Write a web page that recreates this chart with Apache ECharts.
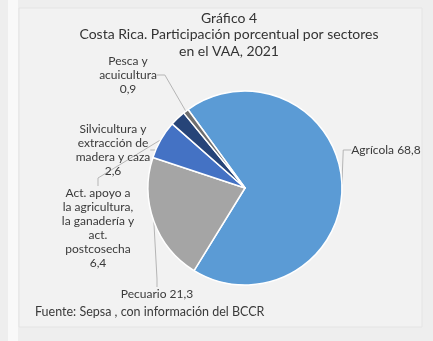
<!DOCTYPE html>
<html>
<head>
<meta charset="utf-8">
<script src="https://cdn.jsdelivr.net/npm/echarts@6/dist/echarts.min.js"></script>
<style>
  html, body { margin: 0; padding: 0; background: #eeeeee; }
  #chart { width: 433px; height: 341px; }
</style>
</head>
<body>
<div id="chart"></div>
<script>
// Sectors of the agricultural value added (VAA), 2021, in percent
const sectors = [
  'Agrícola',
  'Pecuario',
  'Act. apoyo a\nla agricultura,\nla ganadería y\nact.\npostcosecha',
  'Silvicultura y\nextracción de\nmadera y caza',
  'Pesca y\nacuicultura'
];
const shares = [68.8, 21.3, 6.4, 2.6, 0.9];
const sectorColors = ['#5b9bd5', '#a5a5a5', '#4472c4', '#264478', '#6f6f6f'];

// where each label block sits (centre of the text block)
const labelSpots = [
  { x: 386, y: 150 },
  { x: 157, y: 294 },
  { x: 98, y: 228 },
  { x: 113, y: 150 },
  { x: 128, y: 75 }
];

const fmt = v => v.toFixed(1).replace('.', ',');

const chart = echarts.init(document.getElementById('chart'), null, { renderer: 'canvas' });

chart.setOption({
  backgroundColor: '#eeeeee',
  textStyle: { fontFamily: 'Lato' },
  graphic: [
    { type: 'rect', shape: { x: 8, y: 0, width: 10, height: 341 }, style: { fill: '#f9f9f9' }, z: -10 },
    { type: 'rect', shape: { x: 19, y: 8, width: 403, height: 319 },
      style: { fill: '#f2f2f2', stroke: '#e4e4e4', lineWidth: 1 }, z: -9 },
    { type: 'text', left: 35, top: 305,
      style: { text: 'Fuente: Sepsa , con información del BCCR', fill: '#3a3a3a',
               font: '12.5px Lato' } }
  ],
  title: {
    text: 'Gráfico 4\nCosta Rica. Participación porcentual por sectores\nen el VAA, 2021',
    left: 224,
    top: 5,
    textAlign: 'center',
    textStyle: { fontSize: 14, fontWeight: 'normal', color: '#333333', lineHeight: 16.5, fontFamily: 'Lato' }
  },
  series: [{
    type: 'pie',
    center: [245, 188],
    radius: 97,
    startAngle: 126,
    clockwise: true,
    avoidLabelOverlap: false,
    animation: false,
    itemStyle: { borderColor: '#ffffff', borderWidth: 1.5 },
    label: {
      show: true,
      color: '#3a3a3a',
      fontSize: 12,
      lineHeight: 14,
      align: 'center',
      fontFamily: 'Lato',
      formatter: p => p.name.indexOf('\n') >= 0 ? p.name + '\n' + fmt(p.value) : p.name + ' ' + fmt(p.value)
    },
    labelLine: { show: true, length: 8, length2: 8, lineStyle: { color: '#b5b5b5', width: 1 } },
    labelLayout: p => ({
      x: labelSpots[p.dataIndex].x,
      y: labelSpots[p.dataIndex].y,
      align: 'center',
      verticalAlign: 'middle'
    }),
    data: sectors.map((s, i) => ({ name: s, value: shares[i], itemStyle: { color: sectorColors[i] } }))
  }]
});
</script>
</body>
</html>
